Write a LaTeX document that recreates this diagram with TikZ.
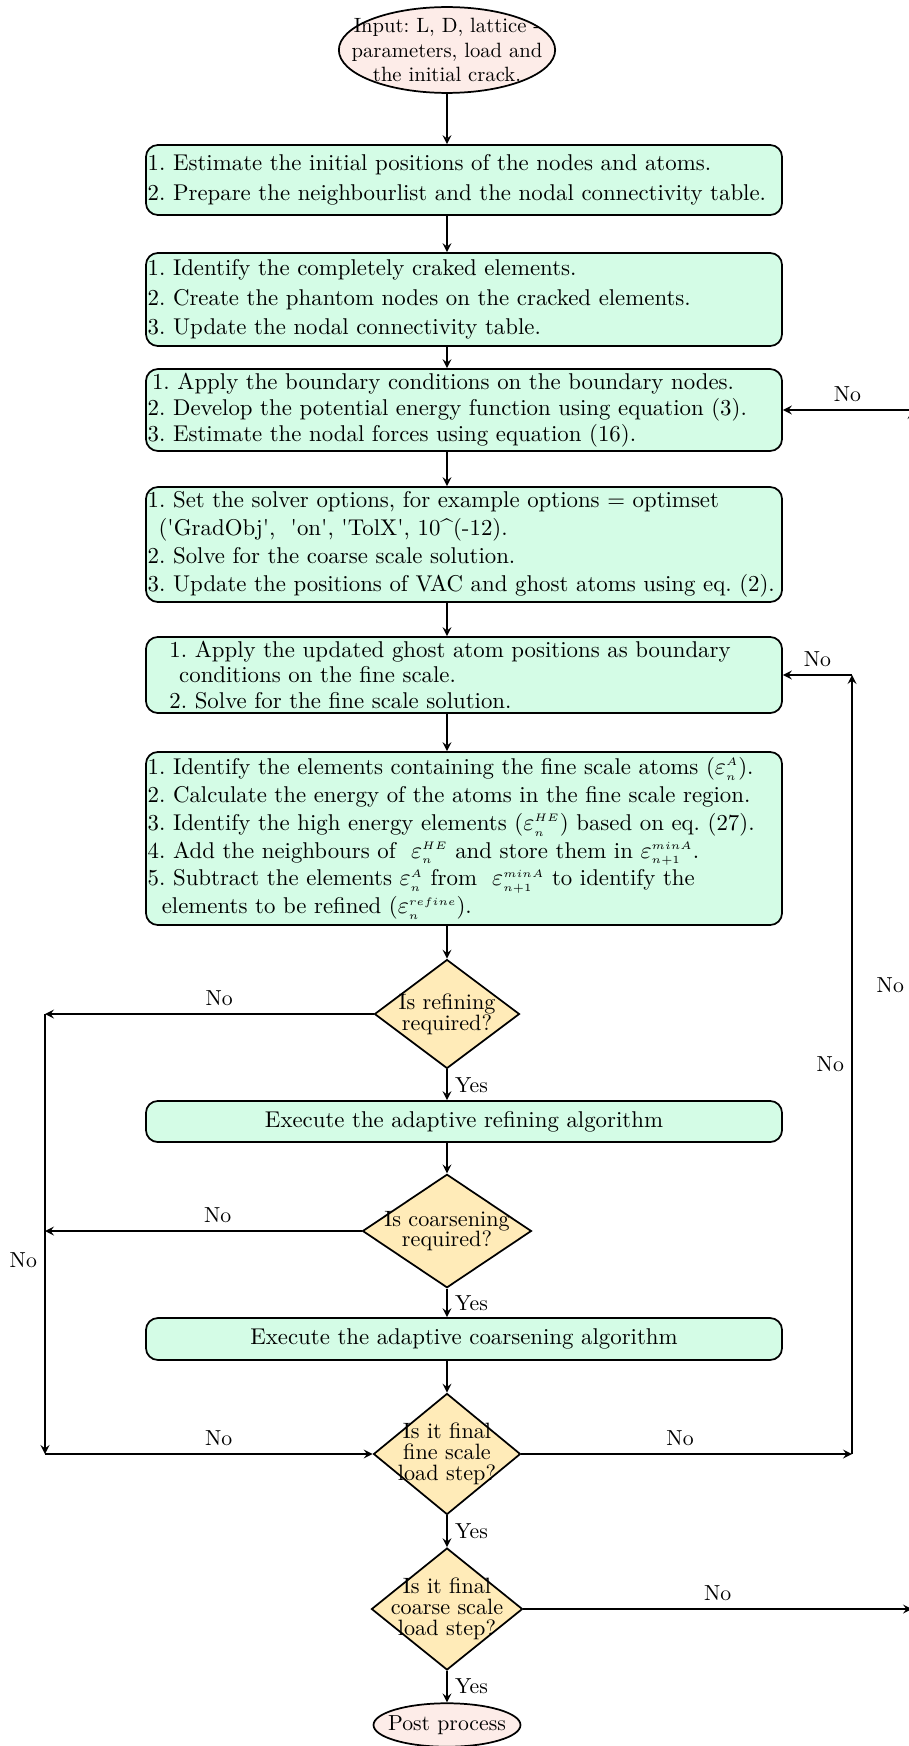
\documentclass[tikz,border=0pt]{standalone}
\usepackage{amsmath,amssymb}
\usetikzlibrary{arrows,shapes.geometric}

\definecolor{boxgreen}{RGB}{212,252,230}
\definecolor{decyellow}{RGB}{255,235,184}
\definecolor{endpink}{RGB}{253,236,232}

\newcommand{\eps}[2]{\varepsilon_{\scriptscriptstyle #1}^{\scriptscriptstyle #2}}

\begin{document}
\frenchspacing
\begin{tikzpicture}[x=0.46pt,y=-0.46pt,>=stealth,thick,
	process/.style={rectangle,rounded corners=5.5pt,draw,fill=boxgreen,text width=291pt,minimum width=292.6pt,inner xsep=0.8pt,inner ysep=0pt,align=left,font=\fontsize{10.5pt}{13.6pt}\selectfont},
	decision/.style={diamond,draw,fill=decyellow,inner sep=-6pt,align=center,font=\fontsize{10.2pt}{9.6pt}\selectfont},
	terminal/.style={ellipse,draw,fill=endpink,align=center}]

	\useasboundingbox (0,0) rectangle (908,1746);

	% main column
	\node[terminal,inner xsep=-14pt,inner ysep=-10pt,minimum width=99.5pt,minimum height=39.5pt,font=\fontsize{9.5pt}{11.4pt}\selectfont] (start) at (447,50) {Input: L, D, lattice -\\parameters, load and\\the initial crack.};
	\node[process,minimum height=32.2pt] (init) at (464,180) {1. Estimate the initial positions of the nodes and atoms.\\2. Prepare the neighbourlist and the nodal connectivity table.};
	\node[process,minimum height=42.8pt] (crack) at (464,299.5) {1. Identify the completely craked elements.\\2. Create the phantom nodes on the cracked elements.\\3. Update the nodal connectivity table.};
	\node[process,minimum height=37.7pt,font=\fontsize{10.5pt}{11.9pt}\selectfont] (bc) at (464,410) {\hspace*{2pt}1. Apply the boundary conditions on the boundary nodes.\\2. Develop the potential energy function using equation (3).\\3. Estimate the nodal forces using equation (16).};
	\node[process,minimum height=52.9pt,font=\fontsize{10.5pt}{12.9pt}\selectfont] (solver) at (464,544.5) {1. Set the solver options, for example options = optimset\\\hspace*{5pt}(\textquotesingle GradObj\textquotesingle,\ \ \textquotesingle on\textquotesingle, \textquotesingle TolX\textquotesingle, 10\textasciicircum(-12).\\2. Solve for the coarse scale solution.\\3. Update the positions of VAC and ghost atoms using eq. (2).};
	\node[process,minimum height=35pt,font=\fontsize{10.5pt}{11.6pt}\selectfont] (fine) at (464,675) {\hspace*{10pt}1. Apply the updated ghost atom positions as boundary\\\hspace*{14.5pt}conditions on the fine scale.\\\hspace*{10pt}2. Solve for the fine scale solution.};
	\node[process,minimum height=79.6pt,font=\fontsize{10.5pt}{12.8pt}\selectfont] (energy) at (464,838.5) {1. Identify the elements containing the fine scale atoms ($\eps{n}{A}$).\\2. Calculate the energy of the atoms in the fine scale region.\\3. Identify the high energy elements ($\eps{n}{HE}$) based on eq. (27).\\4. Add the neighbours of \ $\eps{n}{HE}$ and store them in $\eps{n+1}{minA}$.\\5. Subtract the elements $\eps{n}{A}$ from \ $\eps{n+1}{minA}$ to identify the\\\hspace*{6.5pt}elements to be refined ($\eps{n}{refine}$).};
	\node[decision,minimum width=66.7pt,minimum height=50.1pt] (refq) at (447,1014) {Is refining\\required?};
	\node[process,minimum height=18.9pt,align=center] (refine) at (464,1121.5) {Execute the adaptive refining algorithm};
	\node[decision,minimum width=77.7pt,minimum height=48.3pt] (coarq) at (447,1231) {Is coarsening\\required?};
	\node[process,minimum height=19.3pt,align=center] (coarsen) at (464,1339) {Execute the adaptive coarsening algorithm};
	\node[decision,minimum width=67.6pt,minimum height=55.7pt] (fineq) at (447,1454) {Is it final\\fine scale\\load step?};
	\node[decision,minimum width=69.5pt,minimum height=56.1pt] (coarseq) at (447,1609) {Is it final\\coarse scale\\load step?};
	\node[terminal,inner xsep=-5pt,inner ysep=0pt,minimum width=67.6pt,minimum height=20pt] (stop) at (447,1725) {Post process};

	% rails for the loops
	\coordinate (leftrail) at (45,0);
	\coordinate (innerrail) at (852,0);
	\coordinate (outerrail) at (912,0);

	\draw[->] (start.south) -- (init.north -| start);
	\draw[->] (init.south -| start) -- (crack.north -| start);
	\draw[->] (crack.south -| start) -- (bc.north -| start);
	\draw[->] (bc.south -| start) -- (solver.north -| start);
	\draw[->] (solver.south -| start) -- (fine.north -| start);
	\draw[->] (fine.south -| start) -- (energy.north -| start);
	\draw[->] (energy.south -| start) -- (refq.north);
	\draw[->] (refq.south) -- node[right] {Yes} (refine.north -| start);
	\draw[->] (refine.south -| start) -- (coarq.north);
	\draw[->] (coarq.south) -- node[right] {Yes} (coarsen.north -| start);
	\draw[->] (coarsen.south -| start) -- (fineq.north);
	\draw[->] (fineq.south) -- node[right] {Yes} (coarseq.north);
	\draw[->] (coarseq.south) -- node[right] {Yes} (stop.north);

	% skip refining / coarsening
	\draw[->] (refq.west) -- node[above,pos=0.47] {No} (refq.west -| leftrail);
	\draw[->] (coarq.west) -- node[above,pos=0.455] {No} (coarq.west -| leftrail);
	\draw[->] (refq.west -| leftrail) -- node[left,pos=0.56] {No} (fineq.west -| leftrail);
	\draw[->] (fineq.west -| leftrail) -- node[above,pos=0.53] {No} (fineq.west);

	% next fine scale step
	\draw[->] (fineq.east) -- node[above,pos=0.48] {No} (fineq.east -| innerrail);
	\draw[->] (fineq.east -| innerrail) -- node[left] {No} (fine.east -| innerrail);
	\draw[->] (fine.east -| innerrail) -- node[above] {No} (fine.east);

	% next coarse scale step
	\draw[->] (coarseq.east) -- node[above] {No} (coarseq.east -| outerrail);
	\draw[->] (coarseq.east -| outerrail) -- node[left,pos=0.52] {No} (bc.east -| outerrail);
	\draw[->] (bc.east -| outerrail) -- node[above] {No} (bc.east);
\end{tikzpicture}
\end{document}
